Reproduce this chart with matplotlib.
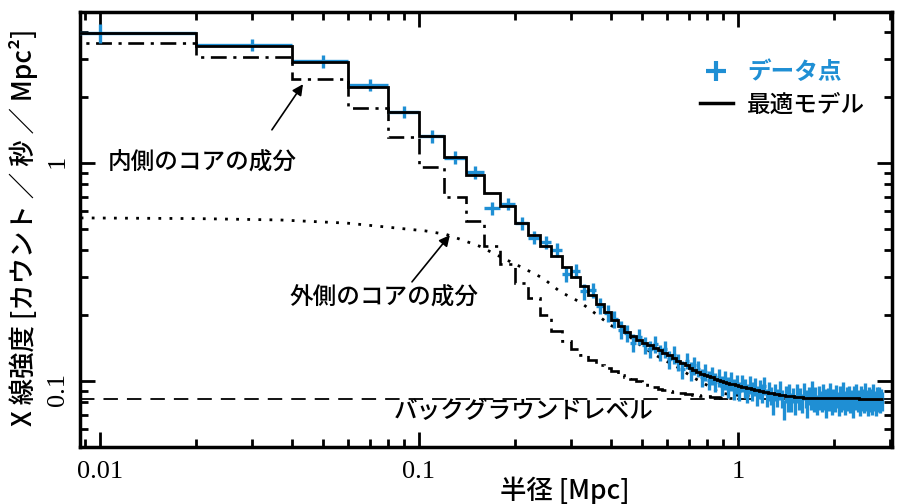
import numpy as np
import matplotlib
matplotlib.use('Agg')
import matplotlib.pyplot as plt
from matplotlib.lines import Line2D
from matplotlib.ticker import NullFormatter

plt.rcParams['font.family'] = ['Noto Sans CJK JP', 'DejaVu Sans']

# radial bins, 0.02 Mpc wide (centres)
bin_width = 0.02
radius = np.round(0.01 + bin_width * np.arange(142), 2)

# best-fit model (counts/s/Mpc^2), one value per bin
model = [3.95, 3.45, 2.91, 2.24, 1.72, 1.33, 1.065, 0.88, 0.728, 0.633,
         0.531, 0.467, 0.415, 0.375, 0.333, 0.300, 0.272, 0.248, 0.226, 0.207,
         0.190, 0.178, 0.168, 0.161, 0.155, 0.150, 0.146, 0.142, 0.139, 0.135,
         0.131, 0.127, 0.124, 0.121, 0.118, 0.115, 0.112, 0.110, 0.108, 0.107,
         0.105, 0.104, 0.102, 0.101, 0.100, 0.099, 0.098, 0.0972, 0.0964, 0.0957,
         0.0950, 0.0943, 0.0937, 0.0931, 0.0925, 0.0919, 0.0914, 0.0909, 0.0904, 0.0899,
         0.0894, 0.0889, 0.0885, 0.0881, 0.0877, 0.0873, 0.0869, 0.0866, 0.0863, 0.0860,
         0.0857, 0.0855, 0.0853, 0.0851, 0.0849, 0.0847, 0.0845, 0.0843, 0.0842, 0.0841,
         0.0840, 0.0839, 0.0838, 0.0837, 0.0836, 0.0835, 0.0835, 0.0834, 0.0834, 0.0833,
         0.0833, 0.0833, 0.0833, 0.0833, 0.0833, 0.0833, 0.0833, 0.0833, 0.0833, 0.0833,
         0.0832, 0.0832, 0.0832, 0.0832, 0.0832, 0.0832, 0.0832, 0.0832, 0.0832, 0.0832,
         0.0832, 0.0832, 0.0832, 0.0832, 0.0832, 0.0832, 0.0832, 0.0832, 0.0832, 0.0832,
         0.0831, 0.0831, 0.0831, 0.0831, 0.0831, 0.0831, 0.0831, 0.0831, 0.0831, 0.0831,
         0.0831, 0.0831, 0.0831, 0.0831, 0.0831, 0.0831, 0.0831, 0.0831, 0.0831, 0.0831,
         0.0831, 0.0831]

# inner core component (+ background), first 50 bins
inner = [3.55, 3.06, 2.43, 1.79, 1.31, 0.955, 0.70, 0.542, 0.418, 0.345,
         0.281, 0.240, 0.200, 0.170, 0.152, 0.140, 0.132, 0.125, 0.119, 0.115,
         0.111, 0.107, 0.104, 0.102, 0.100, 0.098, 0.096, 0.094, 0.092, 0.091,
         0.090, 0.089, 0.0885, 0.088, 0.0875, 0.087, 0.0865, 0.086, 0.0856, 0.0852,
         0.0849, 0.0846, 0.0843, 0.0841, 0.0839, 0.0837, 0.0835, 0.0834, 0.0833, 0.0832]

# outer core component (+ background), smooth curve
outer_r = [0.0087, 0.02, 0.0367, 0.0595, 0.0853, 0.105, 0.122, 0.137, 0.155, 0.183,
           0.212, 0.245, 0.277, 0.32, 0.351, 0.397, 0.449, 0.504, 0.569, 0.644,
           0.722, 0.817, 0.879, 1.0, 1.2, 1.5, 2.0, 2.84]
outer_v = [0.56, 0.556, 0.548, 0.53, 0.503, 0.488, 0.47, 0.443, 0.415, 0.367,
           0.33, 0.296, 0.257, 0.23, 0.208, 0.181, 0.163, 0.143, 0.128, 0.116,
           0.104, 0.094, 0.088, 0.086, 0.0845, 0.0837, 0.0832, 0.083]

background = 0.083

# measured surface brightness and 1-sigma errors
data = [3.95, 3.47, 2.93, 2.28, 1.72, 1.33, 1.06, 0.905, 0.62, 0.65,
        0.53, 0.455, 0.435, 0.40, 0.31, 0.32, 0.258, 0.262, 0.222, 0.205,
        0.192, 0.172, 0.166, 0.150, 0.160, 0.146, 0.140, 0.148, 0.135, 0.140,
        0.126, 0.132, 0.122, 0.113, 0.124, 0.111, 0.118, 0.114, 0.104, 0.110,
        0.101, 0.106, 0.099, 0.104, 0.095, 0.101, 0.094, 0.100, 0.092, 0.097,
        0.090, 0.098, 0.093, 0.088, 0.096, 0.090, 0.094, 0.086, 0.092, 0.088,
        0.095, 0.084, 0.090, 0.086, 0.079, 0.089, 0.084, 0.091, 0.083, 0.074,
        0.087, 0.081, 0.089, 0.080, 0.086, 0.078, 0.088, 0.082, 0.085, 0.079,
        0.090, 0.083, 0.077, 0.086, 0.081, 0.092, 0.080, 0.085, 0.078, 0.087,
        0.082, 0.079, 0.089, 0.083, 0.076, 0.085, 0.081, 0.090, 0.079, 0.084,
        0.080, 0.088, 0.082, 0.077, 0.086, 0.080, 0.091, 0.082, 0.078, 0.085,
        0.081, 0.087, 0.079, 0.084, 0.076, 0.086, 0.082, 0.089, 0.080, 0.083,
        0.078, 0.087, 0.081, 0.085, 0.079, 0.090, 0.082, 0.077, 0.086, 0.080,
        0.084, 0.078, 0.088, 0.081, 0.083, 0.077, 0.086, 0.080, 0.085, 0.079,
        0.084, 0.081]
err = [0.40, 0.22, 0.19, 0.15, 0.11, 0.09, 0.07, 0.06, 0.045, 0.04,
       0.035, 0.032, 0.03, 0.028, 0.024, 0.024, 0.022, 0.021, 0.019, 0.018,
       0.017, 0.016, 0.015, 0.014, 0.014, 0.013, 0.013, 0.013, 0.012, 0.012,
       0.012, 0.012, 0.011, 0.011, 0.011, 0.011, 0.011, 0.010, 0.010, 0.010,
       0.010, 0.010, 0.010, 0.010, 0.010, 0.010, 0.010, 0.010, 0.010, 0.010,
       0.009, 0.009, 0.009, 0.009, 0.009, 0.009, 0.009, 0.009, 0.009, 0.009,
       0.009, 0.008, 0.009, 0.008, 0.009, 0.008, 0.008, 0.009, 0.008, 0.008,
       0.008, 0.009, 0.008, 0.008, 0.007, 0.008, 0.009, 0.008, 0.008, 0.008,
       0.008, 0.008, 0.009, 0.008, 0.007, 0.008, 0.008, 0.009, 0.008, 0.008,
       0.008, 0.007, 0.008, 0.009, 0.008, 0.008, 0.008, 0.008, 0.009, 0.008,
       0.008, 0.008, 0.007, 0.008, 0.009, 0.008, 0.008, 0.008, 0.008, 0.009,
       0.008, 0.008, 0.008, 0.007, 0.008, 0.009, 0.008, 0.008, 0.008, 0.008,
       0.009, 0.008, 0.008, 0.007, 0.008, 0.008, 0.009, 0.008, 0.008, 0.008,
       0.008, 0.008, 0.009, 0.008, 0.007, 0.008, 0.008, 0.008, 0.009, 0.008,
       0.008, 0.008]

blue = '#1f8fd4'

edges = np.append(radius - bin_width / 2, radius[-1] + bin_width / 2)
edges[0] = 1e-3  # first bin starts at r = 0, off the log axis

fig = plt.figure(figsize=(8.99, 5.04), dpi=100)
ax = fig.add_axes([80 / 899, 57 / 504, 812 / 899, 435 / 504])
ax.set_xscale('log')
ax.set_yscale('log')

ax.plot(outer_r, outer_v, color='k', lw=2.0, ls=(0, (1, 3)), zorder=2)
ax.stairs(inner, edges[:len(inner) + 1], baseline=None, color='k', lw=1.9,
          ls=(0, (6, 2.5, 1.2, 2.5)), zorder=2)
ax.axhline(background, color='k', lw=1.3, ls=(0, (8, 5)), zorder=2)
ax.errorbar(radius, data, xerr=bin_width / 2, yerr=err, fmt='none',
            ecolor=blue, elinewidth=2.4, capsize=0, zorder=3)
ax.stairs(model, edges, baseline=None, color='k', lw=2.0, zorder=4)

ax.set_xlim(0.00866, 3.04)
ax.set_ylim(0.0498, 4.93)

# annotations
txt = dict(fontsize=17, fontweight='medium', ha='center', va='center')
arrow = dict(arrowstyle='-|>', color='k', lw=1.2, mutation_scale=16,
             shrinkA=0, shrinkB=0)
ax.text(0.021, 1.0, '内側のコアの成分', **txt)
ax.annotate('', xy=(0.0433, 2.30), xytext=(0.0346, 1.42), arrowprops=arrow)
ax.text(0.0777, 0.240, '外側のコアの成分', **txt)
ax.annotate('', xy=(0.125, 0.467), xytext=(0.0951, 0.285), arrowprops=arrow)
ax.text(0.2134, 0.0728, 'バックグラウンドレベル', **txt)

handles = [Line2D([], [], color=blue, marker='+', ls='none', ms=14, mew=3),
           Line2D([], [], color='k', lw=2.5)]
leg = ax.legend(handles, ['データ点', '最適モデル'], loc='upper right',
                bbox_to_anchor=(0.967, 0.89), frameon=False,
                prop=dict(size=17, weight='medium'),
                handlelength=1.4, handletextpad=0.6, labelspacing=0.4,
                borderpad=0, borderaxespad=0)
leg.get_texts()[0].set_color(blue)
leg.get_texts()[0].set_fontweight('bold')

# axes, ticks
for sp in ax.spines.values():
    sp.set_linewidth(2.5)
ax.tick_params(which='both', direction='in', top=True, right=True, width=2)
ax.tick_params(which='major', length=11)
ax.tick_params(which='minor', length=5.5)
ax.tick_params(axis='x', which='major', pad=10)
ax.tick_params(axis='y', which='major', pad=8, labelrotation=90)
ax.set_xticks([0.01, 0.1, 1], labels=['0.01', '0.1', '1'])
ax.set_yticks([0.1, 1], labels=['0.1', '1'])
ax.xaxis.set_minor_formatter(NullFormatter())
ax.yaxis.set_minor_formatter(NullFormatter())
for lab in ax.get_xticklabels() + ax.get_yticklabels():
    lab.set_fontfamily('Liberation Serif')
    lab.set_fontsize(19)

ax.set_xlabel('半径 [Mpc]', fontsize=19, fontweight='medium')
ax.xaxis.set_label_coords(0.597, -0.068)
ax.set_ylabel('X 線強度 [カウント ／ 秒 ／ Mpc²]', fontsize=19,
              fontweight='medium')
ax.yaxis.set_label_coords(-0.052, 0.506)

fig.savefig('out.png', dpi=100)
